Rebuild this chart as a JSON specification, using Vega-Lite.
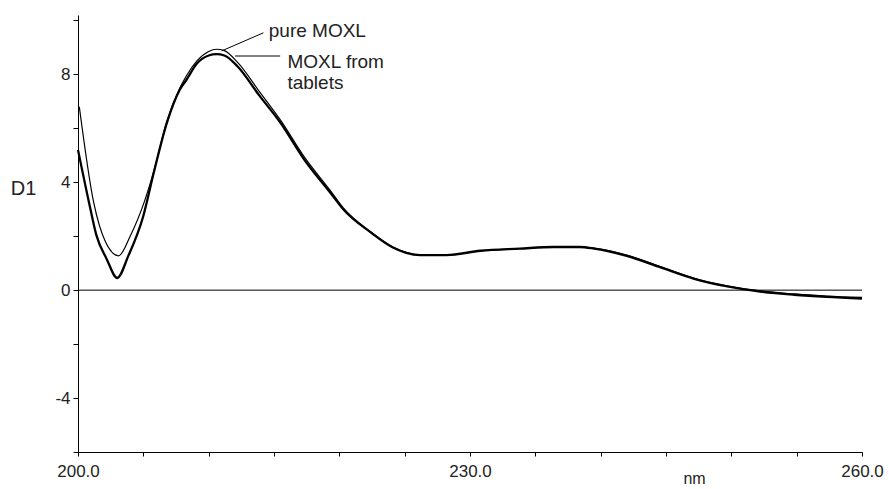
{
  "$schema": "https://vega.github.io/schema/vega-lite/v6.json",
  "width": 784,
  "height": 437,
  "autosize": {"type": "none"},
  "padding": {"left": 78, "top": 15, "right": 27, "bottom": 37},
  "background": "white",
  "config": {
    "view": {"stroke": null},
    "font": "Liberation Sans",
    "axis": {"grid": false, "domainColor": "#000", "tickColor": "#000", "labelColor": "#222", "titleColor": "#222", "labelFont": "Liberation Sans", "titleFont": "Liberation Sans", "titleFontWeight": "normal"}
  },
  "datasets": {
    "curves": [
      {"nm": 200.1, "D1": 6.8, "sample": "pure MOXL"},
      {"nm": 201.2, "D1": 3.25, "sample": "pure MOXL"},
      {"nm": 202.1, "D1": 1.79, "sample": "pure MOXL"},
      {"nm": 203.1, "D1": 1.27, "sample": "pure MOXL"},
      {"nm": 204.0, "D1": 2.01, "sample": "pure MOXL"},
      {"nm": 205.1, "D1": 3.31, "sample": "pure MOXL"},
      {"nm": 205.8, "D1": 4.4, "sample": "pure MOXL"},
      {"nm": 206.8, "D1": 6.25, "sample": "pure MOXL"},
      {"nm": 207.8, "D1": 7.5, "sample": "pure MOXL"},
      {"nm": 208.3, "D1": 7.95, "sample": "pure MOXL"},
      {"nm": 209.1, "D1": 8.5, "sample": "pure MOXL"},
      {"nm": 210.0, "D1": 8.85, "sample": "pure MOXL"},
      {"nm": 210.6, "D1": 8.93, "sample": "pure MOXL"},
      {"nm": 211.2, "D1": 8.88, "sample": "pure MOXL"},
      {"nm": 212.2, "D1": 8.45, "sample": "pure MOXL"},
      {"nm": 213.9, "D1": 7.35, "sample": "pure MOXL"},
      {"nm": 215.5, "D1": 6.3, "sample": "pure MOXL"},
      {"nm": 217.3, "D1": 4.95, "sample": "pure MOXL"},
      {"nm": 219.3, "D1": 3.7, "sample": "pure MOXL"},
      {"nm": 220.3, "D1": 3.05, "sample": "pure MOXL"},
      {"nm": 222.4, "D1": 2.16, "sample": "pure MOXL"},
      {"nm": 224.1, "D1": 1.6, "sample": "pure MOXL"},
      {"nm": 226.2, "D1": 1.31, "sample": "pure MOXL"},
      {"nm": 228.2, "D1": 1.3, "sample": "pure MOXL"},
      {"nm": 230.8, "D1": 1.46, "sample": "pure MOXL"},
      {"nm": 233.8, "D1": 1.54, "sample": "pure MOXL"},
      {"nm": 236.4, "D1": 1.6, "sample": "pure MOXL"},
      {"nm": 238.4, "D1": 1.6, "sample": "pure MOXL"},
      {"nm": 239.5, "D1": 1.56, "sample": "pure MOXL"},
      {"nm": 242.0, "D1": 1.3, "sample": "pure MOXL"},
      {"nm": 244.6, "D1": 0.87, "sample": "pure MOXL"},
      {"nm": 247.1, "D1": 0.45, "sample": "pure MOXL"},
      {"nm": 249.7, "D1": 0.15, "sample": "pure MOXL"},
      {"nm": 252.2, "D1": -0.03, "sample": "pure MOXL"},
      {"nm": 254.8, "D1": -0.14, "sample": "pure MOXL"},
      {"nm": 257.3, "D1": -0.22, "sample": "pure MOXL"},
      {"nm": 260.0, "D1": -0.27, "sample": "pure MOXL"},
      {"nm": 200.0, "D1": 5.2, "sample": "MOXL from tablets"},
      {"nm": 200.9, "D1": 3.12, "sample": "MOXL from tablets"},
      {"nm": 201.4, "D1": 2.05, "sample": "MOXL from tablets"},
      {"nm": 202.2, "D1": 1.15, "sample": "MOXL from tablets"},
      {"nm": 203.0, "D1": 0.45, "sample": "MOXL from tablets"},
      {"nm": 203.85, "D1": 1.27, "sample": "MOXL from tablets"},
      {"nm": 205.0, "D1": 2.75, "sample": "MOXL from tablets"},
      {"nm": 205.8, "D1": 4.36, "sample": "MOXL from tablets"},
      {"nm": 206.8, "D1": 6.2, "sample": "MOXL from tablets"},
      {"nm": 207.8, "D1": 7.44, "sample": "MOXL from tablets"},
      {"nm": 208.3, "D1": 7.8, "sample": "MOXL from tablets"},
      {"nm": 209.1, "D1": 8.4, "sample": "MOXL from tablets"},
      {"nm": 210.0, "D1": 8.7, "sample": "MOXL from tablets"},
      {"nm": 210.6, "D1": 8.75, "sample": "MOXL from tablets"},
      {"nm": 211.2, "D1": 8.7, "sample": "MOXL from tablets"},
      {"nm": 212.2, "D1": 8.3, "sample": "MOXL from tablets"},
      {"nm": 213.9, "D1": 7.2, "sample": "MOXL from tablets"},
      {"nm": 215.5, "D1": 6.2, "sample": "MOXL from tablets"},
      {"nm": 217.3, "D1": 4.85, "sample": "MOXL from tablets"},
      {"nm": 219.3, "D1": 3.62, "sample": "MOXL from tablets"},
      {"nm": 220.3, "D1": 3.0, "sample": "MOXL from tablets"},
      {"nm": 222.4, "D1": 2.14, "sample": "MOXL from tablets"},
      {"nm": 224.1, "D1": 1.58, "sample": "MOXL from tablets"},
      {"nm": 226.2, "D1": 1.3, "sample": "MOXL from tablets"},
      {"nm": 228.2, "D1": 1.3, "sample": "MOXL from tablets"},
      {"nm": 230.8, "D1": 1.46, "sample": "MOXL from tablets"},
      {"nm": 233.8, "D1": 1.54, "sample": "MOXL from tablets"},
      {"nm": 236.4, "D1": 1.6, "sample": "MOXL from tablets"},
      {"nm": 238.4, "D1": 1.6, "sample": "MOXL from tablets"},
      {"nm": 239.5, "D1": 1.54, "sample": "MOXL from tablets"},
      {"nm": 242.0, "D1": 1.27, "sample": "MOXL from tablets"},
      {"nm": 244.6, "D1": 0.84, "sample": "MOXL from tablets"},
      {"nm": 247.1, "D1": 0.43, "sample": "MOXL from tablets"},
      {"nm": 249.7, "D1": 0.14, "sample": "MOXL from tablets"},
      {"nm": 252.2, "D1": -0.05, "sample": "MOXL from tablets"},
      {"nm": 254.8, "D1": -0.17, "sample": "MOXL from tablets"},
      {"nm": 257.3, "D1": -0.25, "sample": "MOXL from tablets"},
      {"nm": 260.0, "D1": -0.31, "sample": "MOXL from tablets"}
    ],
    "labels": [
      {"nm": 214.6, "D1": 9.6, "label": "pure MOXL"},
      {"nm": 216.03, "D1": 8.46, "label": "MOXL from"},
      {"nm": 216.03, "D1": 7.67, "label": "tablets"}
    ],
    "leaders": [
      {"nm": 214.19, "D1": 9.54, "nm2": 211.0, "D12": 8.87},
      {"nm": 215.47, "D1": 8.68, "nm2": 212.02, "D12": 8.68},
      {"nm": 200, "D1": 0, "nm2": 260, "D12": 0}
    ]
  },
  "layer": [
    {
      "data": {"name": "curves"},
      "transform": [{"filter": {"field": "sample", "equal": "MOXL from tablets"}}],
      "mark": {"type": "line", "color": "#000", "strokeWidth": 2.3, "strokeJoin": "round", "interpolate": "monotone"},
      "encoding": {
        "x": {"field": "nm", "type": "quantitative", "scale": {"domain": [200, 260], "nice": false, "zero": false},
          "axis": {"title": "nm", "values": [200, 205, 210, 215, 220, 225, 230, 235, 240, 245, 250, 255, 260],
            "labelExpr": "(datum.value - 200) % 30 == 0 ? format(datum.value, '.1f') : ''",
            "tickSize": 4, "labelPadding": 7, "labelFontSize": 17, "labelFlush": false,
            "titleFontSize": 16, "titleX": 616, "titleY": 26, "titleAlign": "center", "titleBaseline": "middle"}},
        "y": {"field": "D1", "type": "quantitative", "scale": {"domain": [-6, 10.2], "nice": false},
          "axis": {"title": "D1", "values": [-6, -5, -4, -3, -2, -1, 0, 1, 2, 3, 4, 5, 6, 7, 8, 9, 10],
            "labelExpr": "datum.value % 4 == 0 ? '' + datum.value : ''",
            "tickSize": 5, "labelPadding": 3, "labelFontSize": 17,
            "titleFontSize": 20, "titleAngle": 0, "titleX": -55, "titleY": 173, "titleAlign": "center", "titleBaseline": "middle"}}
      }
    },
    {
      "data": {"name": "curves"},
      "transform": [{"filter": {"field": "sample", "equal": "pure MOXL"}}],
      "mark": {"type": "line", "color": "#000", "strokeWidth": 1.2, "strokeJoin": "round", "interpolate": "monotone"},
      "encoding": {
        "x": {"field": "nm", "type": "quantitative"},
        "y": {"field": "D1", "type": "quantitative"}
      }
    },
    {
      "data": {"name": "leaders"},
      "mark": {"type": "rule", "color": "#000", "strokeWidth": 1},
      "encoding": {
        "x": {"field": "nm", "type": "quantitative"},
        "y": {"field": "D1", "type": "quantitative"},
        "x2": {"field": "nm2"},
        "y2": {"field": "D12"}
      }
    },
    {
      "data": {"name": "labels"},
      "mark": {"type": "text", "align": "left", "baseline": "middle", "fontSize": 19, "color": "#222", "font": "Liberation Sans"},
      "encoding": {
        "x": {"field": "nm", "type": "quantitative"},
        "y": {"field": "D1", "type": "quantitative"},
        "text": {"field": "label"}
      }
    }
  ]
}
